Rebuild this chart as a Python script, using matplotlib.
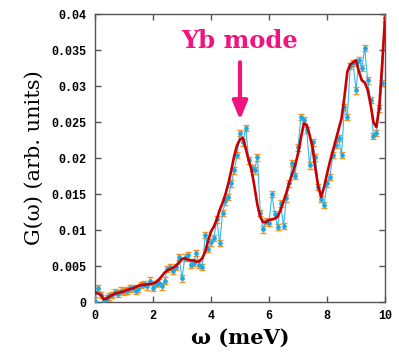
import numpy as np
import matplotlib
matplotlib.use("Agg")
import matplotlib.pyplot as plt

# energy grid (meV)
omega = [round(0.1 * i, 1) for i in range(101)]

# smoothed curve (units of 1e-3)
smooth = [1.4, 1.2, 1.0, 0.4, 0.5, 0.8, 1.0, 1.2, 1.3, 1.4,
          1.5, 1.7, 1.8, 1.9, 2.1, 2.3, 2.4, 2.4, 2.5, 2.5,
          2.6, 2.8, 3.1, 3.6, 4.1, 4.4, 4.6, 4.8, 5.1, 5.5,
          6.0, 6.1, 5.9, 5.8, 5.8, 5.6, 5.7, 6.1, 7.0, 8.5,
          9.8, 10.5, 11.5, 12.8, 13.8, 15.0, 16.5, 18.3, 20.3, 21.8,
          22.6, 22.8, 21.3, 19.7, 18.3, 16.0, 13.5, 11.8, 11.1, 11.1,
          11.4, 11.5, 11.6, 11.9, 12.8, 14.0, 15.2, 16.6, 17.8, 19.0,
          20.6, 22.8, 24.8, 24.6, 23.2, 21.5, 18.5, 16.0, 14.6, 16.0,
          17.8, 19.5, 21.0, 22.5, 24.0, 25.5, 28.5, 32.0, 33.0, 33.3,
          33.6, 32.0, 30.8, 30.5, 29.5, 27.5, 25.0, 24.3, 27.0, 33.0,
          39.5]

# raw data points (units of 1e-3)
raw = [0.2, 2.0, 1.0, 0.3, 0.6, 0.8, 1.0, 1.4, 1.2, 1.6,
       1.5, 1.6, 1.9, 2.0, 1.6, 1.8, 2.4, 2.5, 2.2, 3.0,
       2.0, 2.5, 2.7, 2.2, 3.0, 4.6, 4.9, 4.3, 4.9, 6.3,
       3.3, 6.2, 6.5, 5.2, 5.5, 6.8, 5.2, 4.9, 9.3, 7.4,
       8.3, 8.9, 11.5, 8.2, 12.4, 14.0, 14.6, 16.5, 18.3, 20.4,
       23.5, 22.2, 24.2, 19.7, 18.6, 18.3, 20.1, 12.4, 10.1, 11.3,
       11.0, 15.0, 12.2, 10.4, 13.7, 10.6, 14.4, 16.5, 19.3, 17.5,
       21.5, 25.7, 25.3, 23.9, 19.0, 22.2, 20.1, 16.0, 14.3, 13.5,
       16.5, 17.4, 20.4, 21.8, 22.8, 20.4, 27.1, 25.7, 32.8, 33.2,
       29.4, 33.6, 32.5, 35.3, 30.8, 28.1, 23.1, 23.5, 26.9, 30.4,
       39.4]

err = 0.45  # error bar half-width (1e-3)

x = np.array(omega)
y_s = np.array(smooth) * 1e-3
y_r = np.array(raw) * 1e-3

yticks = [0, 0.005, 0.01, 0.015, 0.02, 0.025, 0.03, 0.035, 0.04]
ytick_labels = ["0", "0.005", "0.01", "0.015", "0.02", "0.025", "0.03", "0.035", "0.04"]
xticks = [0, 2, 4, 6, 8, 10]

fig = plt.figure(figsize=(3.99, 3.61), dpi=100)
ax = fig.add_axes([0.238, 0.163, 0.727, 0.798])

ax.errorbar(x, y_r, yerr=err * 1e-3, fmt="none", ecolor="#f7901e",
            elinewidth=1.0, capsize=2.5, capthick=1.0, zorder=2)
ax.plot(x, y_r, "-", color="#36b8ea", lw=0.8, zorder=3)
ax.plot(x, y_r, "o", color="#1aa9e3", ms=3.4, mec="none", zorder=4)
ax.plot(x, y_s, "-", color="#c80000", lw=1.9, zorder=5)

ax.set_xlim(0, 10)
ax.set_ylim(0, 0.04)
ax.set_xticks(xticks)
ax.set_xticklabels([str(t) for t in xticks])
ax.set_yticks(yticks)
ax.set_yticklabels(ytick_labels)

for lab in ax.get_xticklabels() + ax.get_yticklabels():
    lab.set_family("Liberation Mono")
    lab.set_fontweight("bold")
    lab.set_fontsize(8.5)

ax.tick_params(direction="in", length=4, width=1, color="#555555",
               top=True, right=True, pad=6)
for s in ax.spines.values():
    s.set_color("#555555")
    s.set_linewidth(1)

ax.set_xlabel("ω (meV)", family="DejaVu Serif", fontweight="bold",
              fontsize=15, labelpad=4)
ax.set_ylabel("G(ω) (arb. units)", family="DejaVu Serif",
              fontsize=15, labelpad=6)

ax.annotate("", xy=(5.0, 0.0253), xytext=(5.0, 0.0333),
            arrowprops=dict(arrowstyle="-|>,head_width=0.45,head_length=1.1",
                            color="#f0147f", lw=3, shrinkA=0, shrinkB=0))
ax.text(5.0, 0.0363, "Yb mode", color="#f0147f", family="DejaVu Serif",
        fontweight="bold", fontsize=17.5, ha="center", va="center")

fig.savefig("out.png", dpi=100)
